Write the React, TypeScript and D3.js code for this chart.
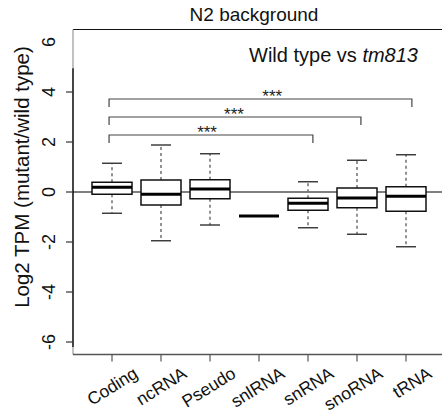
import * as d3 from "d3";

// categories and box statistics (log2 TPM mutant / wild type)
const categories = ["Coding", "ncRNA", "Pseudo", "snlRNA", "snRNA", "snoRNA", "tRNA"];
const whiskerLow = [-0.85, -1.95, -1.32, -0.96, -1.43, -1.69, -2.19];
const q1 = [-0.09, -0.52, -0.27, -0.96, -0.73, -0.63, -0.77];
const medians = [0.19, -0.09, 0.12, -0.96, -0.45, -0.24, -0.17];
const q3 = [0.39, 0.48, 0.49, -0.96, -0.25, 0.16, 0.21];
const whiskerHigh = [1.15, 1.88, 1.53, -0.96, 0.41, 1.27, 1.49];

const yTicks = [-6, -4, -2, 0, 2, 4, 6];

// significance brackets: from / to category index, height, star position
const bracketFrom = [-0.06, -0.06, -0.06];
const bracketTo = [6.12, 5.08, 4.1];
const bracketY = [3.72, 3.0, 2.28];
const starX = [3.27, 2.49, 1.94];
const starLabels = ["***", "***", "***"];

const font = "'Liberation Sans', Arial, Helvetica, sans-serif";

export default function App() {
  const W = 442;
  const H = 418;
  const x = d3.scaleLinear().domain([0, 6]).range([112, 406]);
  const y = d3.scaleLinear().domain([-6.5, 6.5]).range([354.5, 29.5]);
  const left = x(-0.796);
  const right = W;
  const top = y(6.5);
  const bottom = y(-6.5);
  const boxW = 40;
  const capW = 20;

  const boxes = categories.map((c, i) => {
    const cx = x(i);
    const flat = q1[i] === q3[i];
    return (
      <g key={c}>
        {!flat && (
          <>
            <line x1={cx} x2={cx} y1={y(q3[i])} y2={y(whiskerHigh[i])}
              stroke="#777" strokeWidth={1.6} strokeDasharray="3,3" />
            <line x1={cx} x2={cx} y1={y(q1[i])} y2={y(whiskerLow[i])}
              stroke="#777" strokeWidth={1.6} strokeDasharray="3,3" />
            <line x1={cx - capW / 2} x2={cx + capW / 2} y1={y(whiskerHigh[i])} y2={y(whiskerHigh[i])}
              stroke="#333" strokeWidth={1.4} />
            <line x1={cx - capW / 2} x2={cx + capW / 2} y1={y(whiskerLow[i])} y2={y(whiskerLow[i])}
              stroke="#333" strokeWidth={1.4} />
            <rect x={cx - boxW / 2} y={y(q3[i])} width={boxW} height={y(q1[i]) - y(q3[i])}
              fill="white" stroke="#111" strokeWidth={1.5} />
          </>
        )}
        <line x1={cx - boxW / 2} x2={cx + boxW / 2} y1={y(medians[i])} y2={y(medians[i])}
          stroke="#000" strokeWidth={3} />
      </g>
    );
  });

  return (
    <svg width={W} height={H} style={{ position: "absolute", left: 0, top: 0, background: "white" }}
      fontFamily={font}>
      {/* frame */}
      <line x1={left} x2={right} y1={top} y2={top} stroke="#111" strokeWidth={1.2} />
      <line x1={left} x2={left} y1={top} y2={bottom} stroke="#999" strokeWidth={1.2} />
      <line x1={left} x2={right} y1={bottom} y2={bottom} stroke="#555" strokeWidth={1.4} />
      {/* y axis */}
      <line x1={left} x2={left} y1={y(4.95)} y2={y(-6.2)} stroke="#111" strokeWidth={1.4} />
      {yTicks.map((t) => (
        <g key={t}>
          {t !== 6 && (
            <line x1={left - 7} x2={left} y1={y(t)} y2={y(t)} stroke="#333" strokeWidth={1.2} />
          )}
          <text transform={`translate(${left - 18},${y(t)}) rotate(-90)`} textAnchor="middle"
            fontSize={18} fill="#111">{t}</text>
        </g>
      ))}
      <text transform={`translate(29,177) rotate(-90)`} textAnchor="middle" fontSize={20.5} fill="#111">
        Log2 TPM (mutant/wild type)
      </text>
      {/* x axis */}
      {categories.map((c, i) => (
        <g key={c}>
          <line x1={x(i)} x2={x(i)} y1={bottom} y2={bottom + 7} stroke="#555" strokeWidth={1.2} />
          <text transform={`translate(${x(i) + 27},${bottom + 22}) rotate(-32)`} textAnchor="end"
            fontSize={17.5} fill="#111">{c}</text>
        </g>
      ))}
      {/* zero line */}
      <line x1={left} x2={right} y1={y(0)} y2={y(0)} stroke="#000" strokeWidth={1.2} />
      {boxes}
      {/* brackets */}
      {bracketY.map((b, i) => (
        <g key={i}>
          <path d={`M${x(bracketFrom[i])},${y(b) + 8}V${y(b)}H${x(bracketTo[i])}V${y(b) + 8}`}
            fill="none" stroke="#444" strokeWidth={1.2} />
          <text x={x(starX[i])} y={y(b) + 3} textAnchor="middle" fontSize={17} fill="#222">
            {starLabels[i]}
          </text>
        </g>
      ))}
      {/* titles */}
      <text x={254} y={21} textAnchor="middle" fontSize={19} fill="#111">N2 background</text>
      <text x={418} y={62} textAnchor="end" fontSize={20} fill="#111">
        Wild type vs <tspan fontStyle="italic">tm813</tspan>
      </text>
    </svg>
  );
}
